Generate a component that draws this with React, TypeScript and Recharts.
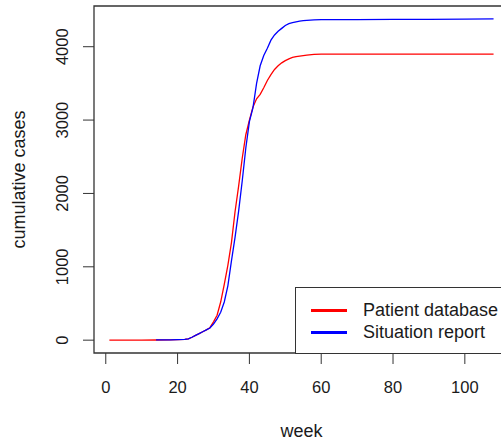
import { LineChart, Line, XAxis, YAxis, ReferenceArea } from 'recharts';

// weekly cumulative counts
const patientWeeks = [1, 5, 10, 14, 18, 22, 23, 24, 25, 26, 27, 28, 29, 30, 31, 32, 33, 34, 35, 36, 37, 38, 39, 40, 41, 42, 43, 44, 45, 46, 47, 48, 49, 50, 51, 52, 53, 54, 55, 56, 58, 60, 70, 80, 90, 100, 108];
const patientCases = [0, 0, 0, 2, 5, 10, 18, 40, 65, 90, 115, 140, 170, 250, 340, 520, 760, 1020, 1330, 1750, 2100, 2480, 2800, 3000, 3180, 3290, 3350, 3440, 3540, 3620, 3690, 3740, 3780, 3810, 3835, 3855, 3865, 3872, 3878, 3885, 3895, 3900, 3900, 3900, 3900, 3900, 3900];

const reportWeeks = [14, 18, 22, 23, 24, 25, 26, 27, 28, 29, 30, 31, 32, 33, 34, 35, 36, 37, 38, 39, 40, 41, 42, 43, 44, 45, 46, 47, 48, 49, 50, 51, 52, 53, 54, 55, 56, 58, 60, 70, 80, 90, 100, 108];
const reportCases = [3, 5, 10, 18, 40, 65, 90, 115, 140, 165, 220, 290, 380, 520, 740, 1080, 1400, 1760, 2170, 2620, 2980, 3170, 3500, 3740, 3880, 3980, 4090, 4160, 4210, 4250, 4290, 4315, 4330, 4340, 4350, 4355, 4360, 4365, 4368, 4370, 4372, 4374, 4377, 4380];

const xTicks = [0, 20, 40, 60, 80, 100];
const yTicks = [0, 1000, 2000, 3000, 4000];

const patient = patientWeeks.map((w, i) => ({ week: w, cases: patientCases[i] }));
const report = reportWeeks.map((w, i) => ({ week: w, cases: reportCases[i] }));

const FONT = '"Liberation Sans", Arial, Helvetica, sans-serif';
const INK = '#1a1a1a';
const AXIS = '#333';

// R-style 4% padding on both axes
const X_DOMAIN: [number, number] = [-3.28, 112.3];
const Y_DOMAIN: [number, number] = [-175, 4555];

const XTick = (props: any) => (
  <text x={props.x} y={393} textAnchor="middle" fontSize={16.5} fill={INK} fontFamily={FONT}>
    {props.payload.value}
  </text>
);

const YTick = (props: any) => (
  <text x={68} y={props.y} transform={`rotate(-90, 68, ${props.y})`} textAnchor="middle" fontSize={16.5} fill={INK} fontFamily={FONT}>
    {props.payload.value}
  </text>
);

function Legend() {
  return (
    <div
      style={{
        position: 'absolute',
        left: 295,
        top: 287,
        width: 230,
        height: 65,
        border: `1px solid ${AXIS}`,
        background: '#fff',
        fontFamily: FONT,
        fontSize: 18,
        color: INK,
      }}
    >
      {[
        { name: 'Patient database', color: '#ff0000', top: 22 },
        { name: 'Situation report', color: '#0000ff', top: 44 },
      ].map((item) => (
        <div key={item.name} style={{ position: 'absolute', left: 15, top: item.top - 11, height: 22, display: 'flex', alignItems: 'center' }}>
          <div style={{ width: 36, height: 3, background: item.color, marginRight: 16 }} />
          <span style={{ lineHeight: '22px', whiteSpace: 'nowrap' }}>{item.name}</span>
        </div>
      ))}
    </div>
  );
}

export default function App() {
  return (
    <div style={{ position: 'absolute', left: 0, top: 0, width: 501, height: 443, overflow: 'hidden', background: '#fff' }}>
      <LineChart width={520} height={443} margin={{ top: 6, right: 11, left: 0, bottom: 0 }}>
        <XAxis
          type="number"
          dataKey="week"
          domain={X_DOMAIN}
          ticks={xTicks}
          allowDataOverflow
          height={90}
          axisLine={false}
          tickSize={11}
          tickLine={{ stroke: AXIS }}
          tick={XTick}
          label={(p: any) => (
            <text x={p.viewBox.x + p.viewBox.width / 2} y={437} textAnchor="middle" fontSize={18} fill={INK} fontFamily={FONT}>
              week
            </text>
          )}
        />
        <YAxis
          type="number"
          dataKey="cases"
          domain={Y_DOMAIN}
          ticks={yTicks}
          allowDataOverflow
          width={94}
          axisLine={false}
          tickSize={11}
          tickLine={{ stroke: AXIS }}
          tick={YTick}
          label={(p: any) => {
            const cy = p.viewBox.y + p.viewBox.height / 2;
            return (
              <text x={25} y={cy} transform={`rotate(-90, 25, ${cy})`} textAnchor="middle" fontSize={18} fill={INK} fontFamily={FONT}>
                cumulative cases
              </text>
            );
          }}
        />
        <ReferenceArea x1={X_DOMAIN[0]} x2={X_DOMAIN[1]} y1={Y_DOMAIN[0]} y2={Y_DOMAIN[1]} fill="none" stroke={AXIS} strokeWidth={1.3} />
        <Line data={patient} dataKey="cases" type="linear" stroke="#ff0000" strokeWidth={1.3} dot={false} isAnimationActive={false} />
        <Line data={report} dataKey="cases" type="linear" stroke="#0000ff" strokeWidth={1.3} dot={false} isAnimationActive={false} />
      </LineChart>
      <Legend />
    </div>
  );
}
